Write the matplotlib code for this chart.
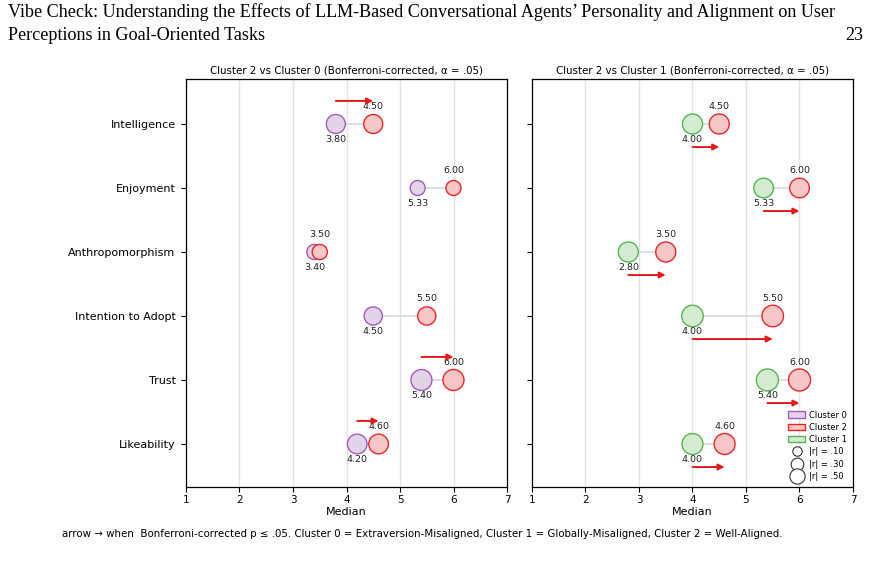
import matplotlib
matplotlib.use("Agg")
import matplotlib.pyplot as plt
from matplotlib.patches import Patch
from matplotlib.lines import Line2D

# ---------------- data ----------------
outcomes = ["Intelligence", "Enjoyment", "Anthropomorphism",
            "Intention to Adopt", "Trust", "Likeability"]

cluster2 = [4.50, 6.00, 3.50, 5.50, 6.00, 4.60]
cluster0 = [3.80, 5.33, 3.40, 4.50, 5.40, 4.20]
cluster1 = [4.00, 5.33, 2.80, 4.00, 5.40, 4.00]

# effect sizes |r| (marker size) per comparison
r_20 = [0.32, 0.14, 0.15, 0.28, 0.42, 0.35]
r_21 = [0.37, 0.35, 0.37, 0.45, 0.48, 0.42]

# Bonferroni-significant comparisons
sig_20 = [True, False, False, False, True, True]
sig_21 = [True, True, True, True, True, True]

legend_r = [0.10, 0.30, 0.50]
legend_r_labels = ["|r| = .10", "|r| = .30", "|r| = .50"]

# ---------------- style ----------------
C0_FACE, C0_EDGE = "#e2d3e9", "#a15dba"
C1_FACE, C1_EDGE = "#d5ebd1", "#56b356"
C2_FACE, C2_EDGE = "#f7c6c6", "#e8262a"
ARROW = "#e31a1c"
LINK = "#d3dae3"


def msize(r):
    return 60 + 400 * r


fig = plt.figure(figsize=(8.7, 5.74), dpi=100)
W, H = 870, 574


def ax_rect(x0, x1, y0, y1):
    return [x0 / W, 1 - y1 / H, (x1 - x0) / W, (y1 - y0) / H]


axL = fig.add_axes(ax_rect(186, 507, 79, 487))
axR = fig.add_axes(ax_rect(532, 853, 79, 487))


def draw(ax, other, r, sig, oface, oedge, title, arrow_above, show_labels):
    ys = list(range(len(outcomes)))
    for i, y in enumerate(ys):
        ax.plot([other[i], cluster2[i]], [y, y], color=LINK, lw=1.2, zorder=1)
    ax.scatter(other, ys, s=[msize(v) for v in r], facecolor=oface,
               edgecolor=oedge, linewidth=1.0, zorder=3)
    ax.scatter(cluster2, ys, s=[msize(v) for v in r], facecolor=C2_FACE,
               edgecolor=C2_EDGE, linewidth=1.0, zorder=4)
    for i, y in enumerate(ys):
        ax.text(cluster2[i], y - 0.27, f"{cluster2[i]:.2f}", ha="center",
                va="center", fontsize=6.8, color="#222222", zorder=5)
        ax.text(other[i], y + 0.25, f"{other[i]:.2f}", ha="center",
                va="center", fontsize=6.8, color="#222222", zorder=5)
        if sig[i]:
            ya = y - 0.36 if arrow_above else y + 0.36
            ax.annotate("", xy=(cluster2[i], ya), xytext=(other[i], ya),
                        arrowprops=dict(arrowstyle="-|>", color=ARROW,
                                        lw=1.4, mutation_scale=9,
                                        shrinkA=0, shrinkB=0), zorder=6)
    ax.set_xlim(1, 7)
    ax.set_ylim(5.672, -0.703)
    ax.set_xticks(range(1, 8))
    ax.set_yticks(ys)
    if show_labels:
        ax.set_yticklabels(outcomes, fontsize=8)
    else:
        ax.set_yticklabels([])
    ax.tick_params(axis="x", labelsize=7.5, length=3.5, pad=2)
    ax.tick_params(axis="y", length=3.5, pad=4)
    ax.grid(axis="x", color="#e3e3e3", lw=1.0, zorder=0)
    ax.set_axisbelow(True)
    ax.set_xlabel("Median", fontsize=8, labelpad=2)
    ax.set_title(title, fontsize=7.4, pad=4)
    for sp in ax.spines.values():
        sp.set_linewidth(0.9)


draw(axL, cluster0, r_20, sig_20, C0_FACE, C0_EDGE,
     "Cluster 2 vs Cluster 0 (Bonferroni-corrected, α = .05)", True, True)
draw(axR, cluster1, r_21, sig_21, C1_FACE, C1_EDGE,
     "Cluster 2 vs Cluster 1 (Bonferroni-corrected, α = .05)", False, False)

handles = [
    Patch(facecolor=C0_FACE, edgecolor=C0_EDGE, label="Cluster 0"),
    Patch(facecolor=C2_FACE, edgecolor=C2_EDGE, label="Cluster 2"),
    Patch(facecolor=C1_FACE, edgecolor=C1_EDGE, label="Cluster 1"),
]
for rv, lab in zip(legend_r, legend_r_labels):
    handles.append(Line2D([], [], marker="o", linestyle="none",
                          markersize=msize(rv) ** 0.5 * 0.68,
                          markerfacecolor="white", markeredgecolor="#333333",
                          markeredgewidth=0.8, label=lab))
axR.legend(handles=handles, loc="lower right", fontsize=6, frameon=False,
           handlelength=2.0, handleheight=0.8, labelspacing=0.4,
           borderaxespad=0.3, handletextpad=0.5)

# page header
fig.text(8 / W, 1 - 12 / H,
         "Vibe Check: Understanding the Effects of LLM-Based Conversational "
         "Agents’ Personality and Alignment on User",
         fontsize=13.1, family="Liberation Serif", ha="left", va="center")
fig.text(8 / W, 1 - 35 / H, "Perceptions in Goal-Oriented Tasks",
         fontsize=13.1, family="Liberation Serif", ha="left", va="center")
fig.text(863 / W, 1 - 35 / H, "23", fontsize=13.1, family="Liberation Serif",
         ha="right", va="center")

fig.text(62 / W, 1 - 534 / H,
         "arrow → when  Bonferroni-corrected p ≤ .05. Cluster 0 = "
         "Extraversion-Misaligned, Cluster 1 = Globally-Misaligned, "
         "Cluster 2 = Well-Aligned.",
         fontsize=7.4, ha="left", va="center")

fig.savefig("out.png", dpi=100)
